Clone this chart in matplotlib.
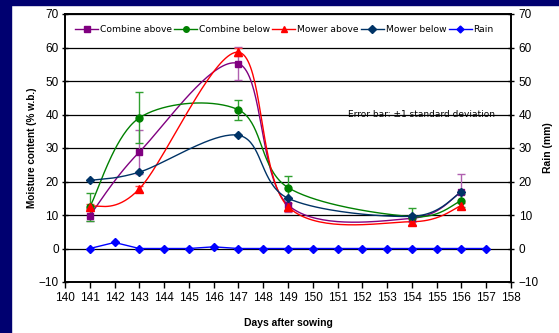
import numpy as np
import matplotlib.pyplot as plt
from matplotlib.patches import Rectangle

# ─── Data ─────────────────────────────────────────────────────────────────────
days = [141, 143, 147, 149, 154, 156]

combine_above = [9.8, 28.8, 55.2, 13.0, 9.0, 17.0]
combine_above_err = [1.5, 6.6, 4.9, 2.2, 1.0, 5.3]

combine_below = [12.4, 39.0, 41.4, 18.2, 9.5, 14.3]
combine_below_err = [4.3, 7.6, 2.9, 3.5, 2.5, 2.0]

mower_above = [12.5, 17.8, 58.6, 12.5, 8.0, 12.8]
mower_above_err = [0.8, 0.8, 1.2, 1.0, 0.9, 0.9]

mower_below = [20.3, 22.8, 33.8, 15.0, 9.6, 16.9]

rain_days = list(range(141, 158))
rain = [0, 1.8, 0, 0, 0, 0.5, 0, 0, 0, 0, 0, 0, 0, 0, 0, 0, 0]

# ─── Excel-style smoothed line (Bezier through points) ───────────────────────
XS, YS = 24.8, 3.35  # px per unit, smoothing is done in screen space


def smooth(xs, ys, n=40):
    p = np.column_stack([np.array(xs) * XS, np.array(ys) * YS])
    out = []
    for i in range(len(p) - 1):
        p0 = p[i - 1] if i > 0 else p[i]
        p1, p2 = p[i], p[i + 1]
        p3 = p[i + 2] if i + 2 < len(p) else p[i + 1]
        c1 = p1 + (p2 - p0) / 6
        c2 = p2 - (p3 - p1) / 6
        t = np.linspace(0, 1, n)[:, None]
        seg = ((1 - t) ** 3 * p1 + 3 * (1 - t) ** 2 * t * c1
               + 3 * (1 - t) * t ** 2 * c2 + t ** 3 * p2)
        out.append(seg)
    pts = np.vstack(out)
    return pts[:, 0] / XS, pts[:, 1] / YS


# ─── Plotting ────────────────────────────────────────────────────────────────
plt.rcParams['font.family'] = ['Liberation Sans', 'DejaVu Sans']
fig = plt.figure(figsize=(5.59, 3.33), dpi=100, facecolor='white')

# navy frame strips (left and top)
navy = '#000070'
fig.patches.append(Rectangle((0, 0), 11 / 559, 1, transform=fig.transFigure,
                             color=navy, zorder=0))
fig.patches.append(Rectangle((0, 1 - 5 / 333), 1, 5 / 333, transform=fig.transFigure,
                             color=navy, zorder=0))

ax = fig.add_axes([65 / 559, 1 - 282 / 333, 446 / 559, 268 / 333])
ax.set_xlim(140, 158)
ax.set_ylim(-10, 70)
ax.set_xticks(range(140, 159))
ax.set_yticks(range(-10, 71, 10))
ax.grid(axis='y', color='black', linewidth=0.9)
ax.set_axisbelow(True)

series = [
    ("Combine above", combine_above, combine_above_err, '#800080', '#B060B0', 's', 5),
    ("Combine below", combine_below, combine_below_err, '#008000', '#30A030', 'o', 5),
    ("Mower above", mower_above, mower_above_err, '#FF0000', '#FF4040', '^', 6),
    ("Mower below", mower_below, None, '#003366', '#003366', 'D', 4.5),
]

handles = []
for name, vals, err, col, ecol, mk, ms in series:
    sx, sy = smooth(days, vals)
    ax.plot(sx, sy, color=col, linewidth=1.0, zorder=3)
    if err is not None:
        ax.errorbar(days, vals, yerr=err, fmt='none', ecolor=ecol,
                    elinewidth=1.0, capsize=3, capthick=1.0, zorder=2)
    ax.plot(days, vals, linestyle='none', marker=mk, markersize=ms,
            color=col, zorder=4)
    h, = ax.plot([], [], color=col, marker=mk, markersize=4, linewidth=1.0)
    handles.append(h)

ax2 = ax.twinx()
ax2.set_ylim(-10, 70)
ax2.set_yticks(range(-10, 71, 10))
ax2.plot(rain_days, rain, color='#0000FF', marker='D', markersize=4,
         linewidth=1.0, zorder=4)
h, = ax.plot([], [], color='#0000FF', marker='D', markersize=3.5, linewidth=1.0)
handles.append(h)

ax.tick_params(axis='x', labelsize=8.5, length=4, width=1, direction='out', pad=3)
ax.tick_params(axis='y', labelsize=8.5, length=5, width=1, direction='inout', pad=2)
ax2.tick_params(axis='y', labelsize=8.5, length=5, width=1, direction='inout', pad=3)
for a in (ax, ax2):
    for s in a.spines.values():
        s.set_linewidth(1.2)

labels = ["Combine above", "Combine below", "Mower above", "Mower below", "Rain"]
ax.legend(handles, labels, loc='upper center', bbox_to_anchor=(0.492, 0.99),
          ncol=5, frameon=False, handlelength=2.5,
          handletextpad=0.2, columnspacing=0.25,
          prop={'family': 'DejaVu Sans', 'size': 6.6})

ax.text(0.964, 0.625, "Error bar: \u00b11 standard deviation", transform=ax.transAxes,
        ha='right', va='center', fontsize=6.5, family='DejaVu Sans')

ax.set_xlabel("Days after sowing", fontsize=7.5, fontweight='bold', labelpad=10)
ax.set_ylabel("Moisture content (% w.b.)", fontsize=7.2, fontweight='bold', labelpad=1)
ax2.set_ylabel("Rain (mm)", fontsize=7.5, fontweight='bold', labelpad=3)

fig.savefig("out.png", dpi=100, facecolor='white')
